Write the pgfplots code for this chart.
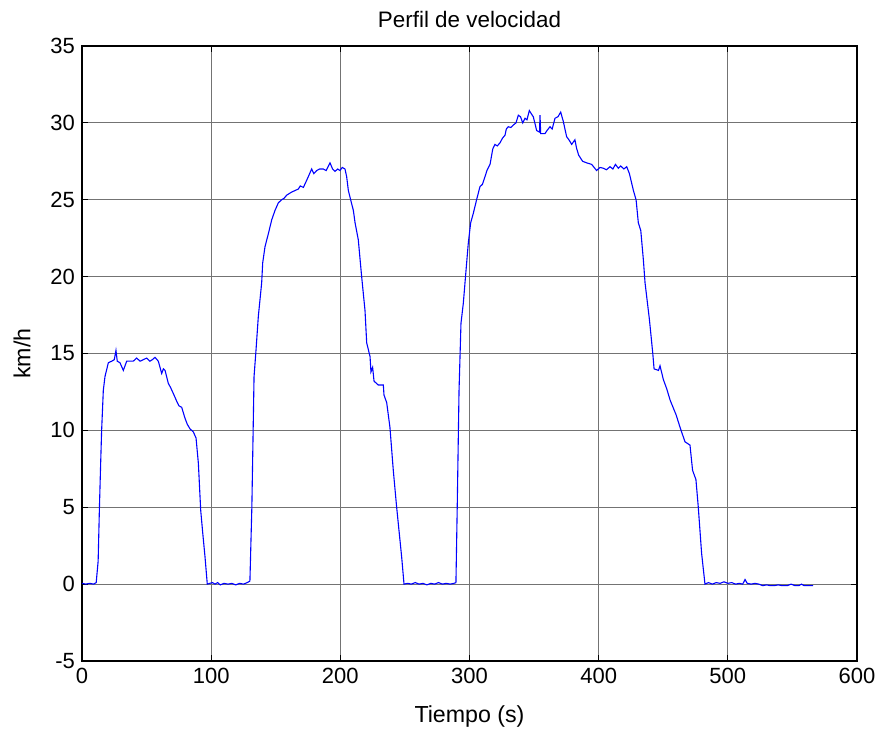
\documentclass[border=0pt]{standalone}
\usepackage{fontspec}
\setmainfont{Liberation Sans}
\usepackage{pgfplots}
\pgfplotsset{compat=1.18}

\begin{document}
\begin{tikzpicture}
\begin{axis}[
    name=ax,
    scale only axis,
    width=387.5pt,
    height=307.5pt,
    xmin=0, xmax=600,
    ymin=-5, ymax=35,
    xtick={0,100,...,600},
    ytick={-5,0,...,35},
    xtick pos=both, ytick pos=both,
    /pgf/number format/assume math mode=true,
    tick label style={font=\fontsize{11}{13}\selectfont},
    tick align=inside,
    major tick length=3pt,
    tick style={black, line width=0.6pt},
    axis line style={black, line width=0.6pt},
    grid=major,
    major grid style={black!55, line width=0.5pt},
    title={Perfil de velocidad},
    title style={font=\fontsize{11.2}{13}\selectfont, at={(axis description cs:0.5,1.0228)}, anchor=center, yshift=0pt},
    xlabel={Tiempo (s)},
    xlabel style={font=\fontsize{11.6}{13}\selectfont, at={(axis description cs:0.5,-0.091)}, anchor=center},
    ylabel={km/h},
    ylabel style={font=\fontsize{11.6}{13}\selectfont, at={(axis description cs:-0.0774,0.5)}, anchor=center},
]
\addplot[blue, line width=0.55pt] coordinates {
(0,0.05) (3,0.0) (6,0.05) (9,0.0) (11,0.1) (12.5,1.5) (13.5,5) (14.5,8)
(15.2,10.0) (16.5,12.6) (17.8,13.5) (20.4,14.4) (23,14.5) (25,14.6) (26.3,15.2)
(27.3,14.5) (29.4,14.4) (32,13.9) (34.6,14.5) (37,14.5) (39.7,14.5) (42.3,14.7)
(45,14.5) (47.5,14.6) (50,14.7) (52.6,14.5) (54.5,14.6) (56.5,14.75) (59.1,14.5)
(61.7,13.7) (63,14.0) (64.3,13.9) (66.8,13.06) (68.5,12.8) (70.7,12.4) (73.3,11.9)
(75,11.6) (77.2,11.5) (79.7,10.8) (81.5,10.4) (83.6,10.1) (86.2,9.9) (88.3,9.5)
(90.1,7.85) (91.9,4.8) (93.5,3.3) (95.2,1.8) (97,0.0) (99,0.05) (101,0.1) (103,0.0)
(105,0.1) (107,-0.05) (110,0.05) (113,0.0) (116,0.05) (119,-0.05) (122,0.05)
(125,0.0) (128,0.1) (130,0.2)
(131.5,5) (132.5,10) (133.2,13.5) (134.7,15.2) (136.5,17.4) (139.1,19.6) (139.9,20.9)
(141.7,21.95) (144.3,22.8) (146.9,23.7) (149.4,24.3) (152,24.8) (154.6,25.0)
(156.5,25.1) (158.5,25.3) (162.3,25.5) (165,25.6) (167.5,25.7) (169,25.9) (171.4,25.8)
(175.2,26.5) (177.8,27.0) (179.5,26.7) (181.7,26.9) (184,27.0) (186.8,27.0) (189,26.9)
(192,27.4) (194,27.0) (195.9,26.85) (198,27.0) (199.7,26.9) (201.5,27.1) (203.6,27.0)
(204.9,26.5) (206.2,25.6) (210.1,24.3) (211.4,23.5) (213.9,22.4) (216.5,20.0)
(219.1,17.8) (220.4,15.7) (223,14.8) (223.7,13.8) (225,14.1) (226.1,13.2) (229.4,12.95)
(233.3,12.95) (233.8,12.3) (235.9,11.8) (238.4,10.2) (241,7.4) (243.6,5.0) (247.5,1.75)
(249.3,0) (252,0.05) (255,0.0) (258,0.1) (261,0.0) (264,0.05) (267,-0.05) (270,0.05)
(273,0.0) (276,0.1) (279,0.0) (282,0.05) (285,0.0) (288,0.05) (289.5,0.1)
(290.5,5) (291.9,12.6) (293.4,16.96) (295.2,18.26) (297.8,20.9) (299.1,22.2)
(300.9,23.5) (302.9,24.1) (305.5,25.0) (308.1,25.85) (310,26.0) (312,26.5) (313.5,26.9)
(315.9,27.3) (318,28.3) (319.7,28.6) (321.5,28.5) (323.6,28.7) (325.5,29.0) (327.5,29.2)
(328.5,29.6) (330,29.75) (332,29.7) (333.9,29.86) (336,30.0) (337.8,30.5) (339.5,30.4)
(341.2,30.0) (343,30.3) (344.5,30.2) (346.3,30.8) (347.8,30.6) (349.4,30.4) (352,29.5)
(354.2,29.4) (354.6,30.5) (355.1,29.3) (358.4,29.3) (360,29.5) (362.3,29.75) (364,29.6)
(366.2,30.3) (368.5,30.4) (370.6,30.7) (372.6,30.1) (375.2,29.1) (377,28.9) (379.1,28.6)
(381.6,28.9) (382.9,28.35) (384.5,27.9) (387.6,27.5) (390.7,27.4) (394.6,27.3)
(396.5,27.1) (398.4,26.9) (401,27.1) (403.6,27.05) (406,26.95) (408.8,27.15) (411,27.0)
(413,27.3) (415.2,27.05) (417,27.2) (419.5,27.0) (421.7,27.15) (423.8,26.7) (426.9,25.6)
(429,24.98) (430.7,23.5) (432.6,23.0) (434.6,21.1) (435.9,19.6) (439.3,17.2) (441.9,15.0)
(442.9,14.0) (446.3,13.9) (447.5,14.2) (450.1,13.3) (452.7,12.7) (455.3,11.97) (460,11.0)
(463,10.2) (466.8,9.26) (470.7,9.04) (472.7,7.4) (475.3,6.8) (477.1,5.03) (479.7,2.0)
(482.3,0) (485,0.1) (488,0.0) (491,0.1) (494,0.05) (497,0.15) (500,0.05) (503,0.1)
(506,0.0) (509,0.05) (511.5,0.0) (513.3,0.3) (515,0.05) (518,0.0) (521,0.05) (524,0.0)
(527,-0.1) (530,-0.05) (533,-0.1) (536,-0.1) (539,-0.05) (542,-0.1) (546,-0.1) (549,0.0)
(552,-0.1) (555,-0.1) (557,0.0) (559,-0.1) (566,-0.1)
};
\end{axis}
\pgfresetboundingbox
\path[use as bounding box] ([shift={(-41pt,-35.5pt)}]ax.south west) rectangle ([shift={(12.5pt,23pt)}]ax.north east);
\end{tikzpicture}
\end{document}
